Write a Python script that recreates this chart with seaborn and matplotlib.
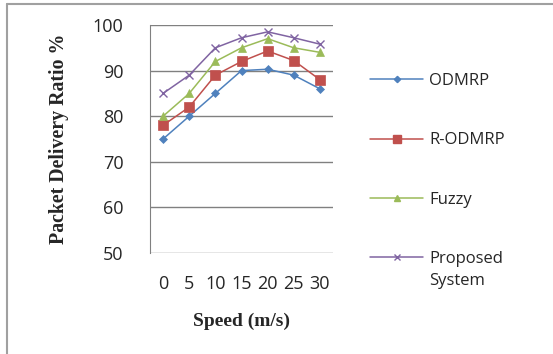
import matplotlib
matplotlib.use("Agg")
import matplotlib.pyplot as plt
import seaborn as sns
import pandas as pd
from matplotlib.lines import Line2D

speeds = ["0", "5", "10", "15", "20", "25", "30"]
odmrp = [75, 80, 85, 90, 90.3, 89, 86]
r_odmrp = [78, 82, 89, 92, 94.3, 92.2, 88]
fuzzy = [80, 85, 92, 95, 97, 95, 94]
proposed = [85, 89, 95, 97.2, 98.5, 97.2, 95.8]
series_names = ["ODMRP", "R-ODMRP", "Fuzzy", "Proposed"]
legend_labels = ["ODMRP", "R-ODMRP", "Fuzzy", "Proposed"]
legend_extra = "System"
yticks = [50, 60, 70, 80, 90, 100]

rows = []
for name, vals in zip(series_names, [odmrp, r_odmrp, fuzzy, proposed]):
    for s, v in zip(speeds, vals):
        rows.append({"Speed": s, "PDR": v, "Series": name})
df = pd.DataFrame(rows)

sns.set_style("white")
plt.rcParams['font.family'] = ['Open Sans', 'DejaVu Sans']

colors = ["#4F81BD", "#C0504D", "#9BBB59", "#8064A2"]
markers = ["D", "s", "^", "x"]
msizes = [4, 7, 6, 6]

fig = plt.figure(figsize=(5.53, 3.54), dpi=100)
ax = fig.add_axes([150/553, 1-253/354, 183/553, 228/354])

for name, c, m, ms in zip(series_names, colors, markers, msizes):
    sub = df[df["Series"] == name]
    sns.lineplot(data=sub, x="Speed", y="PDR", ax=ax, color=c, marker=m,
                 markersize=ms, linewidth=1.1, markeredgecolor=c,
                 markeredgewidth=1 if m == "x" else 0.5, label=name,
                 sort=False)

ax.set_xlim(-0.5, len(speeds) - 0.5)
ax.set_ylim(50, 100)
ax.set_yticks(yticks)
ax.yaxis.grid(True, color="#808080", linewidth=1)
ax.xaxis.grid(False)
for sp in ["top", "right", "bottom"]:
    ax.spines[sp].set_visible(False)
ax.spines["left"].set_color("#808080")
ax.tick_params(axis="y", length=7, color="#808080", labelsize=13, pad=12)
ax.tick_params(axis="x", length=0, labelsize=13, pad=16)
ax.set_xlabel("Speed (m/s)", fontsize=14, fontweight="bold",
              family=["Liberation Serif"], labelpad=14)
ax.set_ylabel("Packet Delivery Ratio %", fontsize=14.3, fontweight="bold",
              family=["Liberation Serif"], labelpad=17)

ax.legend_.remove()
handles = [Line2D([0], [0], color=c, marker=m, markersize=ms * 0.8,
                  markeredgecolor=c, linewidth=1.1)
           for c, m, ms in zip(colors, markers, msizes)]
leg = fig.legend(handles, legend_labels, loc="upper left",
                 bbox_to_anchor=(355/553, 1-58/354), frameon=False,
                 fontsize=12, labelspacing=2.6, handlelength=3.2,
                 handletextpad=0.35)
fig.canvas.draw()
last = leg.get_texts()[-1]
bb = last.get_window_extent()
fig.text(bb.x0 / fig.bbox.width, (bb.y0 - 6) / fig.bbox.height, legend_extra,
         fontsize=12, ha="left", va="top")

fig.add_artist(Line2D([7/553, 1], [1-4/354, 1-4/354], color="#a0a0a0",
                      linewidth=1.5, transform=fig.transFigure))
fig.add_artist(Line2D([7/553, 7/553], [0, 1-4/354], color="#a0a0a0",
                      linewidth=1.5, transform=fig.transFigure))

fig.savefig("out.png", dpi=100)
